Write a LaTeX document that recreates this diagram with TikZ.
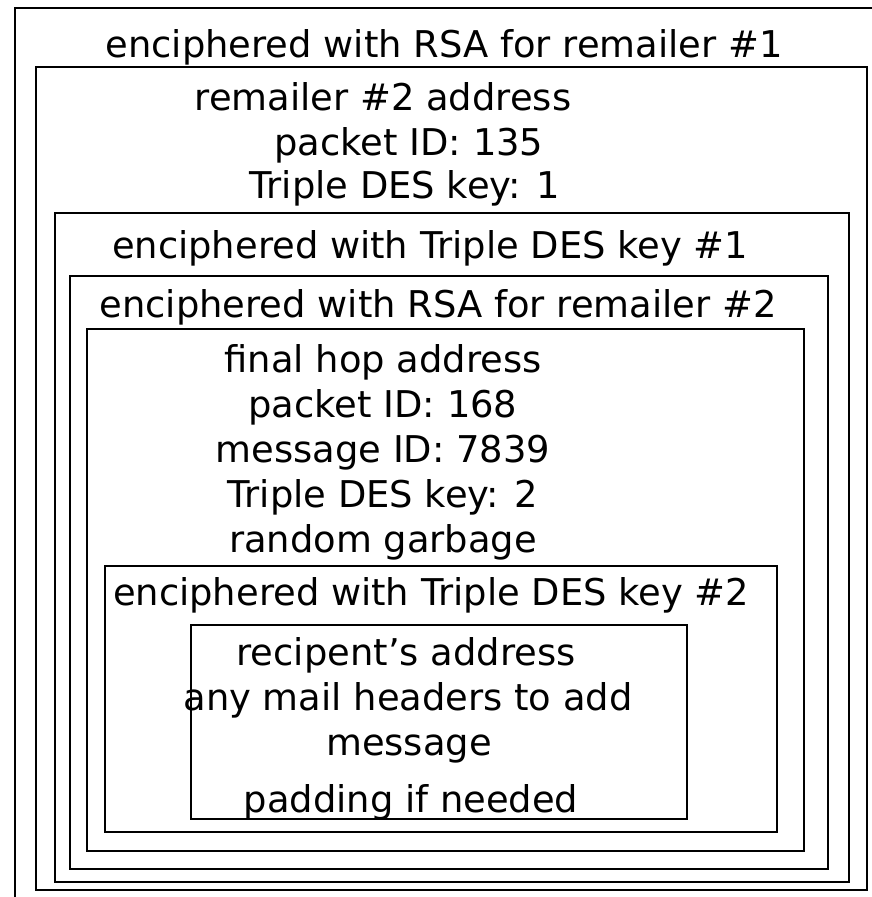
\documentclass[tikz,border=0pt]{standalone}
\usepackage{fontspec}
\setmainfont{DejaVu Sans}
\usetikzlibrary{positioning}
\tikzset{
  layer/.style = {draw, line width=1.4bp},
  lbl/.style   = {anchor=base, inner sep=0pt, font=\fontsize{37}{44}\selectfont},
}

\begin{document}
\begin{tikzpicture}[x=1bp, y=-1bp]
\useasboundingbox (0,0) rectangle (872,897);
% nested envelopes, outermost first
\draw[layer] (872,8) -- (15,8) -- (15,897);
\draw[layer] (36,67)   rectangle (867,890);
\draw[layer] (55,213)  rectangle (849,882);
\draw[layer] (70,276)  rectangle (828,869);
\draw[layer] (87,329)  rectangle (804,851);
\draw[layer] (105,566) rectangle (777,832);
\draw[layer] (191,625) rectangle (687,819);
% remailer 1 layer
\node[lbl] (rsa1)  at (444,57)  {enciphered with RSA for remailer \#1};
\node[lbl] (addr2) at (383,110) {remailer \#2 address};
\node[lbl] (pid1)  at (409,155) {packet ID: 135};
\node[lbl] (key1)  at (405,198) {Triple DES key: 1};
\node[lbl] (des1)  at (430,258) {enciphered with Triple DES key \#1};
% remailer 2 layer
\node[lbl] (rsa2)  at (438,317) {enciphered with RSA for remailer \#2};
\node[lbl] (hop)   at (383,372) {final hop address};
\node[lbl] (pid2)  at (383,417) {packet ID: 168};
\node[lbl] (mid)   at (383,462) {message ID: 7839};
\node[lbl] (key2)  at (383,507) {Triple DES key: 2};
\node[lbl] (junk)  at (383,552) {random garbage};
\node[lbl] (des2)  at (431,605) {enciphered with Triple DES key \#2};
% payload
\node[lbl] (rcpt)  at (406,665) {recipent’s address};
\node[lbl] (hdrs)  at (408,710) {any mail headers to add};
\node[lbl] (msg)   at (409,755) {message};
\node[lbl] (pad)   at (411,812) {padding if needed};
\end{tikzpicture}
\end{document}
